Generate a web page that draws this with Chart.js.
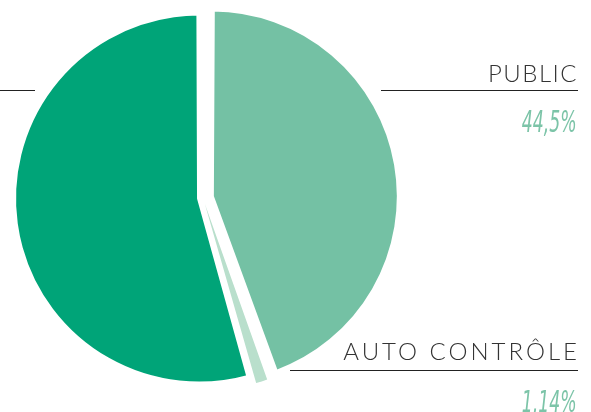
<!DOCTYPE html>
<html>
<head>
<meta charset="utf-8">
<script src="https://cdn.jsdelivr.net/npm/chart.js@4/dist/chart.umd.min.js"></script>
<style>
  html, body { margin: 0; padding: 0; background: #fff; }
  #wrap { position: relative; width: 591px; height: 412px; overflow: hidden; }
  #charts { position: absolute; left: 0; top: 0; }
  .label { position: absolute; right: 13px; font-family: Lato, "Open Sans", sans-serif; font-weight: 300;
           color: #333; font-size: 24px; line-height: 1; white-space: nowrap; }
  .pct { position: absolute; right: 14px; font-family: "Liberation Sans Narrow", "DejaVu Sans Condensed", sans-serif;
         font-style: italic; font-weight: 300; color: #7cc4a8; font-size: 31px; line-height: 1; white-space: nowrap;
         transform: scaleX(0.62); transform-origin: right center; }
  .rule { position: absolute; height: 0; border-top: 1.5px solid #222; }
</style>
</head>
<body>
<div id="wrap">
  <canvas id="charts" width="591" height="412"></canvas>
  <div class="rule" style="left:0;top:90px;width:35px"></div>
  <div class="label" id="lblPublic" style="top:61px;letter-spacing:1.5px"></div>
  <div class="rule" style="left:381px;top:90px;width:197px"></div>
  <div class="pct" id="pctPublic" style="top:106px"></div>
  <div class="label" id="lblAuto" style="top:339px;letter-spacing:3px;right:11px"></div>
  <div class="rule" style="left:290px;top:370px;width:288px"></div>
  <div class="pct" id="pctAuto" style="top:386px"></div>
</div>
<script>
let categories = ['PUBLIC', 'AUTO CONTRÔLE', 'PRIVÉ'];
let shares = [44.5, 1.14, 54.36];
let shareLabels = ['44,5%', '1,14%', '54,36%'];
let sliceColors = ['#74c1a4', '#b9dfcc', '#00a478'];

document.getElementById('lblPublic').textContent = categories[0];
document.getElementById('pctPublic').textContent = shareLabels[0];
document.getElementById('lblAuto').textContent = categories[1];
document.getElementById('pctAuto').textContent = shareLabels[1];

let canvas = document.getElementById('charts');

// Chart.js moves an offset slice by offset/4 and also grows its radius a bit
let currentChart = new Chart(canvas, {
    type: 'pie',
    data: {
        labels: categories,
        datasets: [{
            data: shares,
            backgroundColor: sliceColors,
            borderColor: '#ffffff',
            borderWidth: [4, 0, 4],
            offset: [36, 24, 16]
        }]
    },
    options: {
        responsive: false,
        animation: false,
        radius: 181,
        layout: { padding: { left: 0, top: 0, right: 185, bottom: 16 } },
        plugins: {
            legend: { display: false },
            tooltip: { enabled: false }
        }
    }
});
</script>
</body>
</html>
